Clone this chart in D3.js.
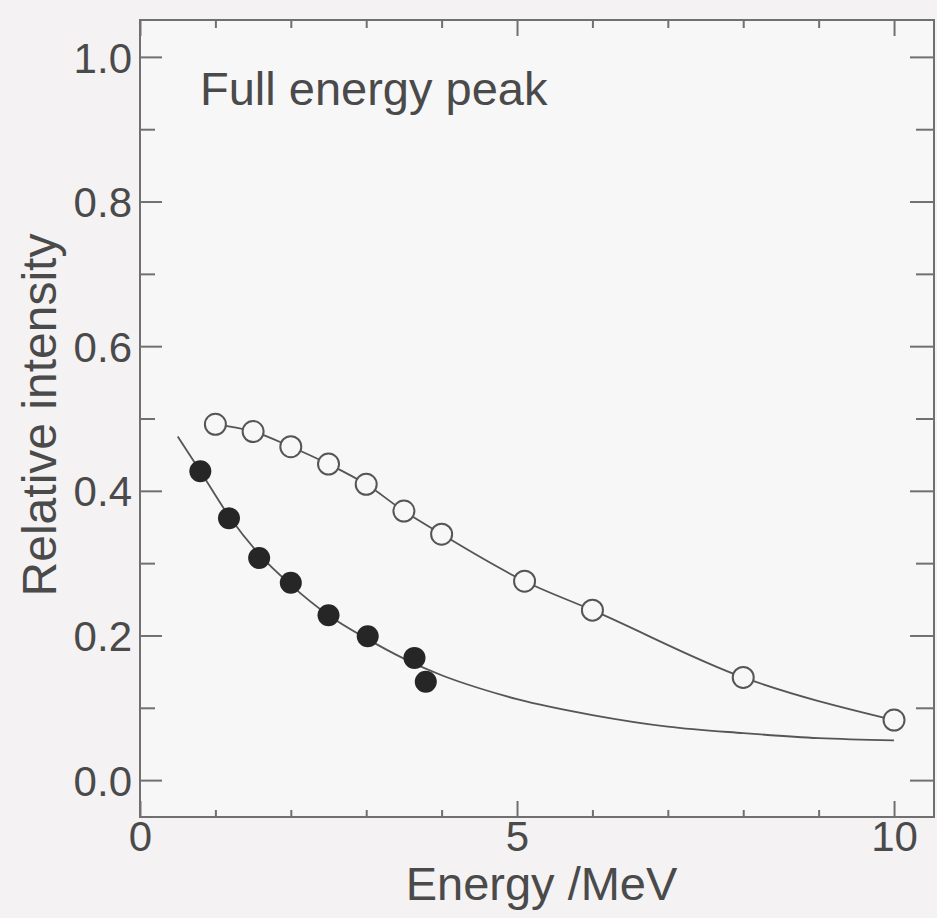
<!DOCTYPE html>
<html>
<head>
<meta charset="utf-8">
<script src="https://cdn.jsdelivr.net/npm/d3@7"></script>
<style>
  body { margin: 0; background: #f4f2f3; }
  svg { display: block; font-family: "Liberation Sans", Arial, sans-serif; }
  .tick text { fill: #4a4a4a; }
</style>
</head>
<body>
<svg width="937" height="918"></svg>
<script>
// open circles: energy (MeV) vs relative intensity
var openX = [1.0, 1.5, 2.0, 2.5, 3.0, 3.5, 4.0, 5.1, 6.0, 8.0, 10.0];
var openY = [0.492, 0.482, 0.461, 0.437, 0.409, 0.372, 0.340, 0.275, 0.235, 0.142, 0.083];

// filled circles
var fillX = [0.8, 1.18, 1.58, 2.0, 2.5, 3.02, 3.64, 3.79];
var fillY = [0.427, 0.362, 0.307, 0.273, 0.228, 0.199, 0.169, 0.136];

// fitted curve through the filled points
var fitX = [0.5, 0.8, 1.2, 1.6, 2.0, 2.5, 3.0, 3.5, 4.0, 4.5, 5.0, 6.0, 7.0, 8.0, 9.0, 10.0];
var fitY = [0.475, 0.427, 0.362, 0.310, 0.270, 0.228, 0.196, 0.168, 0.145, 0.127, 0.112, 0.090, 0.074, 0.065, 0.058, 0.055];

var xMajor = [0, 5, 10];
var xMinor = [1, 2, 3, 4, 6, 7, 8, 9];
var yMajor = [0, 0.2, 0.4, 0.6, 0.8, 1.0];
var yMinor = [0.1, 0.3, 0.5, 0.7, 0.9];

var svg = d3.select("svg");
var pLeft = 140, pRight = 934, pTop = 20, pBottom = 817;

var x = d3.scaleLinear().domain([0, 10.53]).range([pLeft, pRight]);
var y = d3.scaleLinear().domain([-0.051, 1.051]).range([pBottom, pTop]);

var axisColor = "#707070";
var textColor = "#4a4a4a";

svg.append("rect")
    .attr("x", pLeft).attr("y", pTop)
    .attr("width", pRight - pLeft).attr("height", pBottom - pTop)
    .attr("fill", "#f8f7f8")
    .attr("stroke", axisColor)
    .attr("stroke-width", 2);

function styleAxis(g) {
    g.select(".domain").remove();
    g.selectAll("line").attr("stroke", axisColor).attr("stroke-width", 2);
}

// left axis
svg.append("g").attr("transform", "translate(" + pLeft + ",0)")
    .call(d3.axisLeft(y).tickValues(yMajor).tickSize(-22).tickPadding(8)
        .tickFormat(d3.format(".1f")))
    .call(styleAxis)
    .selectAll("text").style("font-size", "42px").attr("dy", "0.36em");
svg.append("g").attr("transform", "translate(" + pLeft + ",0)")
    .call(d3.axisLeft(y).tickValues(yMinor).tickSize(-15).tickFormat(""))
    .call(styleAxis);

// right axis
svg.append("g").attr("transform", "translate(" + pRight + ",0)")
    .call(d3.axisRight(y).tickValues(yMajor).tickSize(-24).tickFormat(""))
    .call(styleAxis);
svg.append("g").attr("transform", "translate(" + pRight + ",0)")
    .call(d3.axisRight(y).tickValues(yMinor).tickSize(-18).tickFormat(""))
    .call(styleAxis);

// bottom axis
svg.append("g").attr("transform", "translate(0," + pBottom + ")")
    .call(d3.axisBottom(x).tickValues(xMajor).tickSize(-16).tickPadding(5)
        .tickFormat(d3.format("d")))
    .call(styleAxis)
    .selectAll("text").style("font-size", "42px").attr("dy", "0.68em");
svg.append("g").attr("transform", "translate(0," + pBottom + ")")
    .call(d3.axisBottom(x).tickValues(xMinor).tickSize(-7).tickFormat(""))
    .call(styleAxis);

// top axis
svg.append("g").attr("transform", "translate(0," + pTop + ")")
    .call(d3.axisTop(x).tickValues(xMajor).tickSize(-16).tickFormat(""))
    .call(styleAxis);
svg.append("g").attr("transform", "translate(0," + pTop + ")")
    .call(d3.axisTop(x).tickValues(xMinor).tickSize(-8).tickFormat(""))
    .call(styleAxis);

// lines
var line = d3.line()
    .x(function (d) { return x(d[0]); })
    .y(function (d) { return y(d[1]); })
    .curve(d3.curveMonotoneX);

svg.append("path")
    .datum(d3.zip(fitX, fitY))
    .attr("d", line)
    .attr("fill", "none")
    .attr("stroke", "#555")
    .attr("stroke-width", 1.8);

svg.append("path")
    .datum(d3.zip(openX, openY))
    .attr("d", line)
    .attr("fill", "none")
    .attr("stroke", "#555")
    .attr("stroke-width", 1.8);

// points
svg.append("g").selectAll("circle")
    .data(d3.zip(openX, openY))
    .enter().append("circle")
    .attr("cx", function (d) { return x(d[0]); })
    .attr("cy", function (d) { return y(d[1]); })
    .attr("r", 10.5)
    .attr("fill", "#f8f7f8")
    .attr("stroke", "#555")
    .attr("stroke-width", 2);

svg.append("g").selectAll("circle")
    .data(d3.zip(fillX, fillY))
    .enter().append("circle")
    .attr("cx", function (d) { return x(d[0]); })
    .attr("cy", function (d) { return y(d[1]); })
    .attr("r", 11)
    .attr("fill", "#262626");

// labels
svg.append("text")
    .attr("x", 200).attr("y", 105)
    .attr("fill", textColor)
    .style("font-size", "47px")
    .text("Full energy peak");

svg.append("text")
    .attr("x", (405 + 678) / 2).attr("y", 900)
    .attr("text-anchor", "middle")
    .attr("fill", textColor)
    .style("font-size", "47px")
    .text("Energy /MeV");

svg.append("text")
    .attr("transform", "translate(56,415) rotate(-90)")
    .attr("text-anchor", "middle")
    .attr("fill", textColor)
    .style("font-size", "48px")
    .text("Relative intensity");
</script>
</body>
</html>
